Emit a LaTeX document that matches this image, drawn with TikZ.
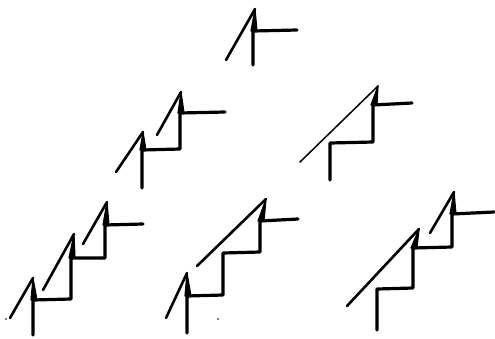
\documentclass[tikz,border=0pt]{standalone}
\begin{document}
\begin{tikzpicture}[x=1pt,y=-1pt,
  stair/.style={line width=3.2pt,line cap=round,line join=round},
  diag/.style={line width=2.6pt,line cap=round},
  thindiag/.style={line width=1.5pt,line cap=round},
  speck/.style={fill=black}]
\useasboundingbox (0,0) rectangle (495,338);
\newcommand\wedgeto[2]{\fill[line join=round] (#1) -- ([xshift=-2pt]#2) -- ([xshift=4pt]#2) -- cycle;
  \draw[line width=1.2pt,line join=round] (#1) -- ([xshift=-2pt]#2) -- ([xshift=4pt]#2) -- cycle;}

% ---- figure 1 (top)
\coordinate (a0) at (253,65); \coordinate (a1) at (253,31); \coordinate (a2) at (297,30);
\coordinate (as) at (226,60); \coordinate (ap) at (255,9);
\draw[stair] (a0) -- (a1) -- (a2);
\draw[diag] (as) -- (ap);
\wedgeto{ap}{a1}

% ---- figure 2 (middle left)
\coordinate (b0) at (142,188); \coordinate (b1) at (142,150); \coordinate (b2) at (180,149);
\coordinate (b3) at (180,113); \coordinate (b4) at (225,112);
\coordinate (bs1) at (116,172); \coordinate (bp1) at (143,132);
\coordinate (bs2) at (157,135); \coordinate (bp2) at (181,92);
\draw[stair] (b0) -- (b1) -- (b2) -- (b3) -- (b4);
\draw[diag] (bs1) -- (bp1);
\draw[diag] (bs2) -- (bp2);
\wedgeto{bp1}{b1}
\wedgeto{bp2}{b3}

% ---- figure 3 (middle right)
\coordinate (c0) at (330,180); \coordinate (c1) at (330,143); \coordinate (c2) at (373,142);
\coordinate (c3) at (373,105); \coordinate (c4) at (412,103);
\coordinate (cs) at (300,162); \coordinate (cp) at (378,86);
\draw[stair] (c0) -- (c1) -- (c2) -- (c3) -- (c4);
\draw[thindiag] (cs) -- (cp);
\wedgeto{cp}{c3}

% ---- figure 4 (bottom left)
\coordinate (d0) at (33,335); \coordinate (d1) at (33,300); \coordinate (d2) at (71,299);
\coordinate (d3) at (71,258); \coordinate (d4) at (105,258); \coordinate (d5) at (105,225);
\coordinate (d6) at (143,224);
\coordinate (ds1) at (10,318); \coordinate (dp1) at (33,278);
\coordinate (ds2) at (43,290); \coordinate (dp2) at (74,234);
\coordinate (ds3) at (83,244); \coordinate (dp3) at (107,202);
\draw[stair] (d0) -- (d1) -- (d2) -- (d3) -- (d4) -- (d5) -- (d6);
\draw[diag] (ds1) -- (dp1);
\draw[diag] (ds2) -- (dp2);
\draw[diag] (ds3) -- (dp3);
\wedgeto{dp1}{d1}
\wedgeto{dp2}{d3}
\wedgeto{dp3}{d5}
\fill[speck] (6,319) circle (0.9pt);

% ---- figure 5 (bottom middle)
\coordinate (e0) at (187,333); \coordinate (e1) at (187,296); \coordinate (e2) at (223,295);
\coordinate (e3) at (223,253); \coordinate (e4) at (260,252); \coordinate (e5) at (260,221);
\coordinate (e6) at (298,219);
\coordinate (es1) at (166,318); \coordinate (ep1) at (187,273);
\coordinate (es2) at (197,266); \coordinate (ep2) at (266,199);
\draw[stair] (e0) -- (e1) -- (e2) -- (e3) -- (e4) -- (e5) -- (e6);
\draw[diag] (es1) -- (ep1);
\draw[diag] (es2) -- (ep2);
\wedgeto{ep1}{e1}
\wedgeto{ep2}{e5}
\fill[speck] (218,319) circle (0.9pt);

% ---- figure 6 (bottom right)
\coordinate (f0) at (377,330); \coordinate (f1) at (377,289); \coordinate (f2) at (413,288);
\coordinate (f3) at (413,248); \coordinate (f4) at (452,247); \coordinate (f5) at (452,214);
\coordinate (f6) at (494,212);
\coordinate (fs1) at (347,306); \coordinate (fp1) at (419,229);
\coordinate (fs2) at (430,233); \coordinate (fp2) at (454,192);
\draw[stair] (f0) -- (f1) -- (f2) -- (f3) -- (f4) -- (f5) -- (f6);
\draw[diag] (fs1) -- (fp1);
\draw[diag] (fs2) -- (fp2);
\wedgeto{fp1}{f3}
\wedgeto{fp2}{f5}
\end{tikzpicture}
\end{document}
